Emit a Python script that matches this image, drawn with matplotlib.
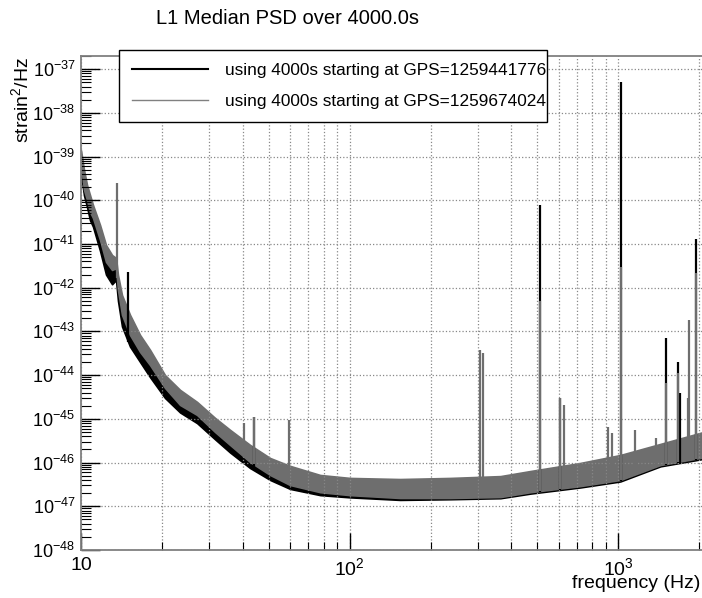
import numpy as np
import matplotlib
matplotlib.use('Agg')
import matplotlib.pyplot as plt
from matplotlib.ticker import FixedLocator, FuncFormatter, NullFormatter

plt.rcParams['font.family'] = ['Liberation Sans', 'DejaVu Sans']
plt.rcParams['mathtext.fontset'] = 'custom'
plt.rcParams['mathtext.rm'] = 'Liberation Sans'
plt.rcParams['mathtext.it'] = 'Liberation Sans:italic'

# band of each median PSD (Hz, strain^2/Hz)
freq = [10.0, 10.26, 10.53, 10.80, 11.08, 11.77, 12.39, 13.05, 13.50, 13.73,
        14.21, 15.22, 16.59, 18.07, 20.55, 23.38, 27.04, 31.56, 35.89, 42.6,
        50.6, 60.0, 77.7, 100.4, 154, 237, 364, 470, 722, 1017, 1433, 2048]

gray_hi = [1.4e-39, 5.0e-40, 2.25e-40, 1.33e-40, 7.85e-41, 2.74e-41, 9.5e-42, 5.6e-42, 4.8e-42, 1.96e-42,
           6.8e-43, 2.4e-43, 8.3e-44, 3.8e-44, 1.0e-44, 4.6e-45, 2.44e-45, 1.05e-45, 5.6e-46, 2.53e-46,
           1.27e-46, 8.4e-47, 5.2e-47, 4.45e-47, 4.2e-47, 4.45e-47, 4.9e-47, 6.4e-47, 9.8e-47, 1.49e-46, 2.67e-46, 4.9e-46]
gray_lo = [6.5e-40, 1.73e-40, 1.02e-40, 5.4e-41, 3.96e-41, 1.24e-41, 3.9e-42, 2.55e-42, 2.8e-42, 8.9e-43,
           2.4e-43, 8.3e-44, 3.4e-44, 1.7e-44, 5.1e-45, 2.08e-45, 1.23e-45, 5.0e-46, 2.53e-46, 1.03e-46,
           5.2e-47, 3.07e-47, 2.1e-47, 1.8e-47, 1.55e-47, 1.55e-47, 1.63e-47, 2.1e-47, 2.9e-47, 4.0e-47, 8.8e-47, 1.3e-46]

black_hi = [1.0e-39, 3.5e-40, 1.5e-40, 8e-41, 5e-41, 1.6e-41, 5e-42, 3e-42, 3e-42, 1.2e-42,
            4e-43, 1.3e-43, 5e-44, 2.2e-44, 6e-45, 2.8e-45, 1.5e-45, 6.5e-46, 3.5e-46, 1.6e-46,
            8e-47, 5.5e-47, 4.0e-47, 3.6e-47, 3.5e-47, 3.8e-47, 4.3e-47, 5.6e-47, 8.8e-47, 1.35e-46, 2.4e-46, 4.4e-46]
black_lo = [4e-40, 1.3e-40, 7e-41, 3.5e-41, 2.5e-41, 7e-42, 2e-42, 1.2e-42, 1.5e-42, 5e-43,
            1.3e-43, 4.5e-44, 2e-44, 9e-45, 3e-45, 1.4e-45, 8e-46, 3.4e-46, 1.7e-46, 7.5e-47,
            4.0e-47, 2.5e-47, 1.8e-47, 1.6e-47, 1.4e-47, 1.45e-47, 1.53e-47, 1.95e-47, 2.7e-47, 3.7e-47, 8.2e-47, 1.2e-46]

# spectral lines
black_line_f = [15.0, 44.0, 512, 608, 1026, 1510, 1673, 1700, 1951]
black_line_p = [2.3e-42, 1.1e-45, 7.9e-41, 3.0e-45, 5.1e-38, 7e-44, 2.0e-44, 3.9e-45, 1.3e-41]
gray_line_f = [13.6, 40.5, 44.0, 59.5, 306, 314, 512, 608, 629, 918, 950, 1026, 1157, 1385, 1510, 1673, 1820, 1837, 1951]
gray_line_p = [2.5e-40, 8.1e-46, 1.1e-45, 9.4e-46, 3.8e-44, 3.2e-44, 5e-43, 3e-45, 2.1e-45, 6.5e-46,
               4.75e-46, 3e-42, 5.6e-46, 3.7e-46, 6.7e-45, 1.1e-44, 3e-45, 1.8e-43, 2.2e-42]

labels = ['using 4000s starting at GPS=1259441776', 'using 4000s starting at GPS=1259674024']

gray = '#6e6e6e'


def band_floor(f_lines, f_band, lo_band):
    # lines start from the lower edge of their own band
    return 10 ** np.interp(np.log10(f_lines), np.log10(f_band), np.log10(lo_band))


fig = plt.figure(figsize=(7.02, 5.98), dpi=100, facecolor='w')
ax = fig.add_axes([81/702, 48/598, 621/702, 494/598])
ax.set_xscale('log')
ax.set_yscale('log')

ax.fill_between(freq, black_lo, black_hi, color='k', lw=1.2)
ax.vlines(black_line_f, band_floor(black_line_f, freq, black_lo), black_line_p, color='k', lw=1.6)
ax.fill_between(freq, gray_lo, gray_hi, color=gray, lw=1.2)
ax.vlines(gray_line_f, band_floor(gray_line_f, freq, gray_lo), gray_line_p, color=gray, lw=1.6)

ax.set_xlim(10, 2048)
ax.set_ylim(1e-48, 2e-37)

ax.xaxis.set_major_locator(FixedLocator([10, 100, 1000]))
ax.xaxis.set_minor_locator(FixedLocator([20, 30, 40, 50, 60, 70, 80, 90, 200, 300, 400, 500, 600, 700, 800, 900, 2000]))
def xfmt(v, pos):
    if v == 10:
        return '10'
    return r'$10^{%d}$' % round(np.log10(v))
ax.xaxis.set_major_formatter(FuncFormatter(xfmt))
ax.xaxis.set_minor_formatter(NullFormatter())

decades = np.arange(-48, -36)
ax.yaxis.set_major_locator(FixedLocator(10.0 ** decades))
ax.yaxis.set_minor_locator(FixedLocator([m * 10.0 ** d for d in decades[:-1] for m in range(2, 10)] + [2e-37]))
ax.yaxis.set_major_formatter(FuncFormatter(lambda v, pos: r'$10^{%d}$' % round(np.log10(v))))
ax.yaxis.set_minor_formatter(NullFormatter())

ax.tick_params(axis='both', which='both', direction='in', color='k')
ax.tick_params(axis='x', which='major', length=12, width=1, pad=5, labelsize=14)
ax.tick_params(axis='x', which='minor', length=6, width=0.8)
ax.tick_params(axis='y', which='major', length=14, width=1, pad=4, labelsize=13)
ax.tick_params(axis='y', which='minor', length=7, width=0.8)
ax.tick_params(top=False, right=False)

ax.grid(True, which='major', axis='both', color='#888888', linestyle=':', linewidth=0.9)
ax.grid(True, which='minor', axis='x', color='#888888', linestyle=':', linewidth=0.9)
for s in ax.spines.values():
    s.set_color('#808080')
    s.set_linewidth(1.3)
ax.spines['right'].set_visible(False)

h1, = ax.plot([], [], color='k', lw=1.5)
h2, = ax.plot([], [], color='#808080', lw=1.0)
leg = ax.legend([h1, h2], labels, loc='upper left',
                bbox_to_anchor=(119/702, 1 - 56/598, 428/702, 0.01),
                bbox_transform=fig.transFigure, mode='expand', borderaxespad=0,
                fontsize=12.4, handlelength=4.4, handletextpad=1.0, labelspacing=0.95,
                fancybox=False, framealpha=1, edgecolor='k', borderpad=0.75)
leg.get_frame().set_linewidth(1.0)

fig.text(288/702, 1 - 19/598, 'L1 Median PSD over 4000.0s', ha='center', va='center', fontsize=14.5)
fig.text(21/702, 1 - 57/598, 'strain$^{2}$/Hz', rotation=90, ha='center', va='top', fontsize=14)
fig.text(700/702, 1 - 583/598, 'frequency (Hz)', ha='right', va='center', fontsize=14)

fig.savefig('out.png', dpi=100)
